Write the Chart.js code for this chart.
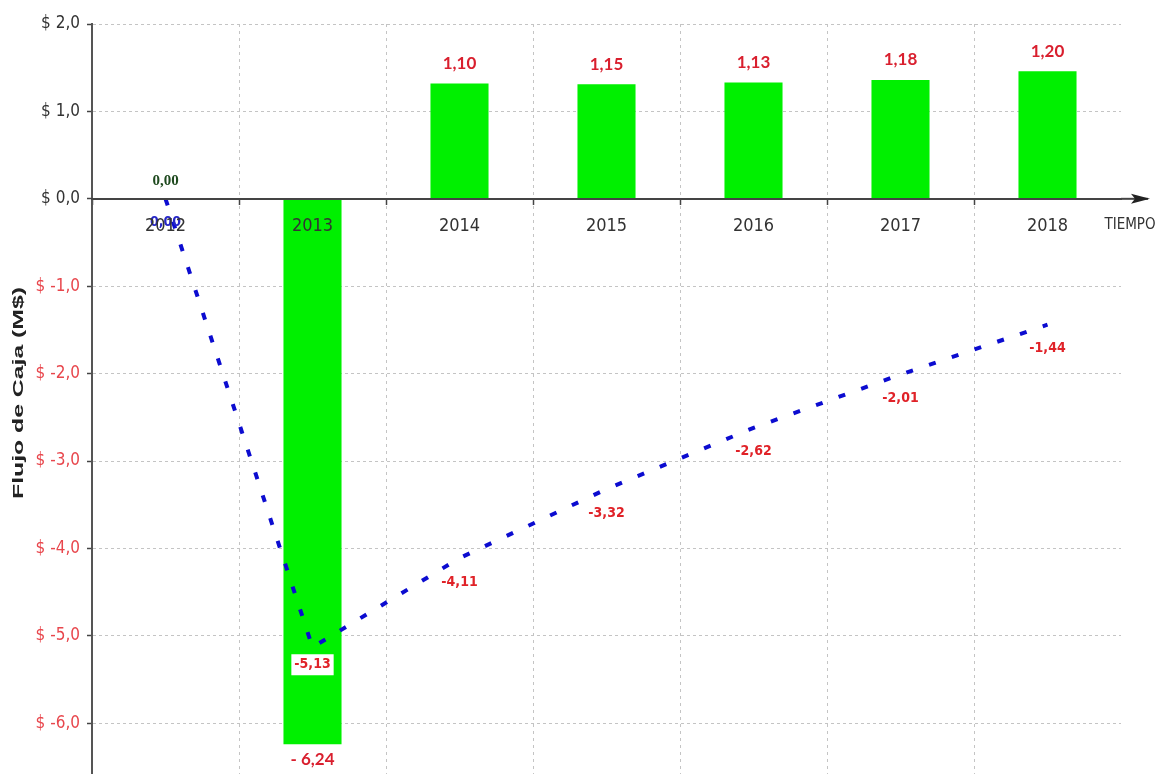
<!DOCTYPE html>
<html>
<head>
<meta charset="utf-8">
<script src="https://cdn.jsdelivr.net/npm/chart.js@4/dist/chart.umd.min.js"></script>
<style>
  html, body { margin: 0; padding: 0; background: #fff; }
  #wrap { width: 1158px; height: 774px; position: relative; }
</style>
</head>
<body>
<div id="wrap"><canvas id="flujoChart"></canvas></div>
<script>
// Data
const years = ["2012", "2013", "2014", "2015", "2016", "2017", "2018"];
const flujo = [0, -6.24, 1.32, 1.31, 1.33, 1.36, 1.46];
const flujoLabels = ["0,00", "- 6,24", "1,10", "1,15", "1,13", "1,18", "1,20"];
const acumulado = [0, -5.13, -4.11, -3.32, -2.62, -2.01, -1.44];
const acumuladoLabels = ["0,00", "-5,13", "-4,11", "-3,32", "-2,62", "-2,01", "-1,44"];
const yTicks = [2, 1, 0, -1, -2, -3, -4, -5, -6];
const yMin = -6.58;
const yMax = 2;
const yTitle = "Flujo de Caja (M$)";

const RED = "#e02228";
const NARROW = '"Liberation Sans Narrow", "DejaVu Sans Condensed", sans-serif';

// value labels for bars and the line
const valueLabels = {
  id: "valueLabels",
  afterDatasetsDraw(chart) {
    const ctx = chart.ctx;
    ctx.save();
    ctx.textAlign = "center";
    ctx.textBaseline = "middle";

    chart.getDatasetMeta(0).data.forEach((bar, i) => {
      const v = flujo[i];
      if (v === 0) {
        ctx.font = 'bold 15px "Liberation Serif", serif';
        ctx.fillStyle = "#1f4a1f";
        ctx.fillText(flujoLabels[i], bar.x, bar.y - 18);
        return;
      }
      ctx.font = 'bold 17px Lato, sans-serif';
      ctx.fillStyle = "#d91f2e";
      const y = v < 0 ? bar.y + 15 : bar.y - 20;
      ctx.fillText(flujoLabels[i], bar.x, y);
    });

    chart.getDatasetMeta(1).data.forEach((pt, i) => {
      ctx.font = "bold 14px " + NARROW;
      const text = acumuladoLabels[i];
      let y = pt.y + 24;
      if (i === 1) {
        // this one sits on the green bar, with a white box behind it
        y = pt.y + 17;
        const w = ctx.measureText(text).width;
        ctx.fillStyle = "#fff";
        ctx.fillRect(pt.x - w / 2 - 3, y - 10, w + 6, 21);
      }
      ctx.fillStyle = acumulado[i] === 0 ? "#2626c8" : RED;
      ctx.fillText(text, pt.x, y);
    });
    ctx.restore();
  },
};

// arrow at the end of the time axis, and the tall narrow y title
const extras = {
  id: "extras",
  afterDraw(chart) {
    const ctx = chart.ctx;
    const y0 = chart.scales.y.getPixelForValue(0);
    const x0 = chart.chartArea.right;
    ctx.save();
    ctx.strokeStyle = "#444";
    ctx.lineWidth = 2;
    ctx.beginPath();
    ctx.moveTo(x0, y0);
    ctx.lineTo(1148, y0);
    ctx.stroke();
    ctx.fillStyle = "#222";
    ctx.beginPath();
    ctx.moveTo(1150, y0);
    ctx.lineTo(1131, y0 - 5);
    ctx.lineTo(1135, y0);
    ctx.lineTo(1131, y0 + 5);
    ctx.closePath();
    ctx.fill();
    ctx.font = "15px " + NARROW;
    ctx.fillStyle = "#333";
    ctx.textAlign = "center";
    ctx.textBaseline = "middle";
    ctx.fillText("TIEMPO", 1130, y0 + 26);
    ctx.restore();

    // y axis title
    const area = chart.chartArea;
    ctx.save();
    ctx.font = 'bold 15px "Liberation Sans", Arial, sans-serif';
    ctx.fillStyle = "#222";
    ctx.textAlign = "center";
    ctx.textBaseline = "middle";
    const w = ctx.measureText(yTitle).width;
    ctx.translate(19, (area.top + area.bottom) / 2 - 6);
    ctx.rotate(-Math.PI / 2);
    ctx.scale(212 / w, 1);
    ctx.fillText(yTitle, 0, 0);
    ctx.restore();
  },
};

new Chart(document.getElementById("flujoChart"), {
  type: "bar",
  data: {
    labels: years,
    datasets: [
      {
        type: "bar",
        label: "Flujo",
        data: flujo,
        backgroundColor: "#00f000",
        borderWidth: 0,
        barPercentage: 0.395,
        categoryPercentage: 1,
        order: 1,
      },
      {
        type: "line",
        label: "Acumulado",
        data: acumulado,
        borderColor: "#0c0cd0",
        borderWidth: 4,
        borderDash: [7, 17],
        pointRadius: 0,
        tension: 0,
        fill: false,
        order: 0,
      },
    ],
  },
  options: {
    responsive: true,
    maintainAspectRatio: false,
    animation: false,
    layout: { padding: { top: 24, right: 37, bottom: 0, left: 0 } },
    plugins: {
      legend: { display: false },
      tooltip: { enabled: false },
    },
    scales: {
      x: {
        position: { y: 0 },
        offset: true,
        afterFit: (s) => {
          s.height = 0;
          s.paddingLeft = 0;
          s.paddingRight = 0;
        },
        ticks: {
          color: "#333",
          font: { family: NARROW, size: 18 },
          padding: 12,
          maxRotation: 0,
          autoSkip: false,
          z: 1,
        },
        grid: {
          offset: true,
          color: (c) => (c.tick ? "#c4c4c4" : "rgba(0,0,0,0)"),
          tickColor: (c) => (c.tick ? "#444" : "rgba(0,0,0,0)"),
          tickLength: 5,
          tickWidth: 1.5,
        },
        border: { color: "#444", width: 2, dash: [3, 4], z: 1 },
      },
      y: {
        min: yMin,
        max: yMax,
        afterBuildTicks: (s) => {
          s.ticks = yTicks.map((v) => ({ value: v }));
        },
        afterFit: (s) => {
          s.width = 92;
          s.paddingTop = 0;
          s.paddingBottom = 0;
        },
        ticks: {
          callback: (v) => "$ " + Number(v).toFixed(1).replace(".", ","),
          color: (c) => (c.tick && c.tick.value < 0 ? "#e8464c" : "#333"),
          font: { family: NARROW, size: 17 },
          padding: 7,
        },
        grid: {
          color: (c) => (c.tick && c.tick.value === 0 ? "rgba(0,0,0,0)" : "#c4c4c4"),
          tickColor: "#444",
          tickLength: 5,
          tickWidth: 1.5,
        },
        border: { color: "#555", width: 2, dash: [3, 3] },
      },
    },
  },
  plugins: [valueLabels, extras],
});
</script>
</body>
</html>
